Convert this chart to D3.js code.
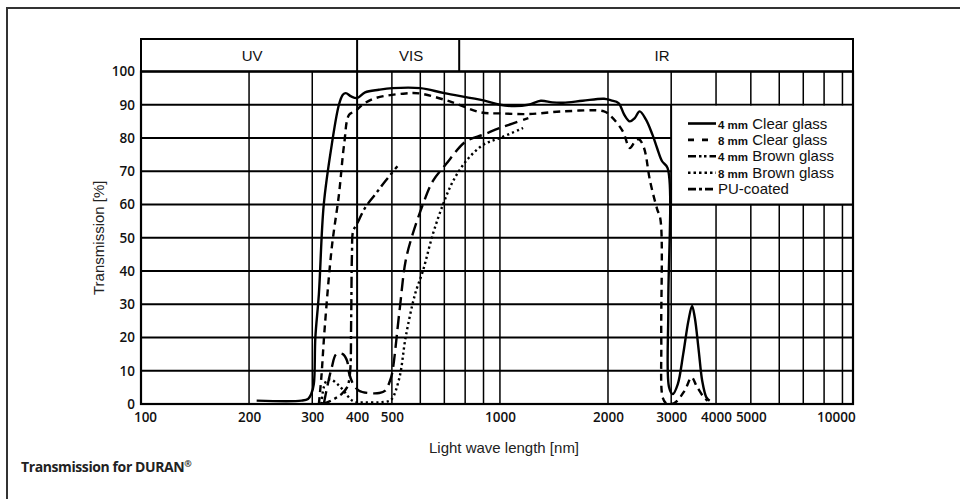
<!DOCTYPE html>
<html>
<head>
<meta charset="utf-8">
<script src="https://cdn.jsdelivr.net/npm/d3@7"></script>
<style>
  html, body { margin: 0; padding: 0; background: #fff; }
  svg { display: block; }
</style>
</head>
<body>
<svg id="chart" width="960" height="499"></svg>
<script>
// ---------- DATA ----------
const bandNames = ["UV", "VIS", "IR"];
const bandEdges = [100, 400, 770, 9630];

const xTickValues = [100, 200, 300, 400, 500, 1000, 2000, 3000, 4000, 5000, 10000];
const xGridValues = [200, 300, 400, 500, 600, 700, 800, 900, 1000, 2000, 3000, 4000, 5000, 6000, 7000, 8000, 9000];
const yTickValues = [0, 10, 20, 30, 40, 50, 60, 70, 80, 90, 100];

const seriesNames = ["4 mm Clear glass", "8 mm Clear glass", "4 mm Brown glass", "8 mm Brown glass", "PU-coated"];

const clear4W = [210, 280, 292, 298, 303, 306, 313, 323, 340, 356, 365, 372, 385, 400, 421, 460, 502, 600, 700, 900, 1000, 1100, 1200, 1300, 1400, 1500, 1700, 1950, 2040, 2140, 2220, 2300, 2375, 2450, 2550, 2660, 2740, 2830, 2930, 2945, 2960, 3030, 3130, 3240, 3350, 3430, 3490, 3580, 3660, 3760, 3840];
const clear4T = [1, 1, 1.5, 3, 6, 20, 33, 60, 78, 90, 93, 93.5, 92.5, 92, 93.7, 94.5, 95, 95, 93.5, 91.3, 90, 89.6, 90, 91.2, 90.7, 90.6, 91.2, 91.8, 91.3, 90.5, 87, 85, 86, 88, 85.6, 81, 77, 73, 71, 30, 5, 3, 6, 15, 25, 29.5, 26, 16, 7, 2, 1];

const clear8W = [313, 318, 325, 340, 356, 368, 380, 395, 414, 450, 546, 597, 725, 884, 1000, 1200, 1500, 1950, 2040, 2200, 2300, 2380, 2440, 2520, 2620, 2740, 2800, 2815, 2840, 2900, 3060, 3270, 3420, 3530, 3700, 3790];
const clear8T = [0, 8, 23, 47, 63, 78, 87, 88, 90, 92, 93.4, 93.4, 91, 87.7, 87.4, 87.2, 88, 88, 86.5, 82, 77, 79, 79.6, 77, 67, 58.7, 55.5, 20, 2, 0.3, 0.3, 4, 8, 5.4, 2, 1];

const brown4W = [323, 330, 340, 350, 365, 375, 380, 390, 405, 432, 461, 479, 494, 501, 525, 546, 571, 610, 650, 706, 804, 899, 1000, 1200];
const brown4T = [0, 5, 11, 15, 15, 13, 9.3, 6, 4, 3.3, 3.3, 4, 7, 9.3, 28, 43, 51, 60, 67, 72, 79, 81, 83, 86];

const brown8W = [318, 323, 330, 340, 355, 370, 383, 395, 420, 460, 487, 500, 525, 546, 580, 610, 650, 694, 740, 804, 899, 1000, 1160];
const brown8T = [0, 5, 7.2, 7.2, 5.7, 3.5, 1.5, 0.6, 0.5, 0.5, 0.8, 1.5, 8, 20, 33, 40, 51, 60, 67, 73, 78, 80, 83];

const puW = [316, 330, 345, 362, 375, 382, 385, 387, 390, 399, 421, 449, 479, 518];
const puT = [0, 0.5, 1.5, 3, 5, 9, 25, 45, 52, 54, 59, 63, 67, 71.5];

// ---------- LAYOUT ----------
const svg = d3.select("#chart");
const L = 141, R = 853, T = 71.5, B = 404, bandTop = 39;

const x = d3.scaleLog().domain([100, 9630]).range([L, R]);
const y = d3.scaleLinear().domain([0, 100]).range([B, T]);

// outer frame (left + top)
svg.append("path")
  .attr("d", `M7,499 L7,8 L960,8`)
  .attr("fill", "none").attr("stroke", "#333").attr("stroke-width", 2);

// gridlines
const grid = svg.append("g");
grid.selectAll("line.h").data(yTickValues.slice(1, -1)).join("line")
  .attr("x1", L).attr("x2", R)
  .attr("y1", d => y(d)).attr("y2", d => y(d))
  .attr("stroke", "#000").attr("stroke-width", 1.9);
grid.selectAll("line.v").data(xGridValues).join("line")
  .attr("x1", d => x(d)).attr("x2", d => x(d))
  .attr("y1", T).attr("y2", B)
  .attr("stroke", "#000").attr("stroke-width", d => d === 400 ? 2 : 1.5);

// band row
svg.append("rect").attr("x", L).attr("y", bandTop).attr("width", R - L).attr("height", T - bandTop)
  .attr("fill", "none").attr("stroke", "#000").attr("stroke-width", 2);
svg.selectAll("line.band").data(bandEdges.slice(1, -1)).join("line")
  .attr("x1", d => x(d)).attr("x2", d => x(d))
  .attr("y1", bandTop).attr("y2", T)
  .attr("stroke", "#000").attr("stroke-width", 2);
svg.selectAll("text.band").data(bandNames).join("text")
  .attr("x", (d, i) => (x(bandEdges[i]) + x(bandEdges[i + 1])) / 2 + (i === 2 ? 6 : 3))
  .attr("y", 61)
  .attr("text-anchor", "middle")
  .attr("font-family", "Liberation Sans, Arial, sans-serif")
  .attr("font-size", 15).attr("fill", "#111")
  .text(d => d);

// legend box (covers grid)
const lgX0 = x(3000), lgX1 = R, lgY0 = y(90), lgY1 = y(60);
svg.append("rect").attr("x", lgX0).attr("y", lgY0 + 1).attr("width", lgX1 - lgX0).attr("height", lgY1 - lgY0 - 1)
  .attr("fill", "#fff").attr("stroke", "none");
svg.append("path")
  .attr("d", `M${lgX0},${lgY0} L${lgX0},${lgY1} L${lgX1},${lgY1}`)
  .attr("fill", "none").attr("stroke", "#000").attr("stroke-width", 1.8);

// plot border
svg.append("rect").attr("x", L).attr("y", T).attr("width", R - L).attr("height", B - T)
  .attr("fill", "none").attr("stroke", "#000").attr("stroke-width", 2.2);

// curves
svg.append("clipPath").attr("id", "clip").append("rect")
  .attr("x", L).attr("y", T - 5).attr("width", R - L).attr("height", B - T + 5);

const styles = [
  { dash: null, w: 2.4 },
  { dash: "7,5", w: 2.4 },
  { dash: "13,6", w: 2.4 },
  { dash: "2.2,3", w: 2.4 },
  { dash: "11,4,3,4", w: 2.4 }
];
const legendDash = [null, "6,8", "8,3,2.5,2.5,2.5,3", "2.5,3", "8,3,3,3"];
const series = [
  [clear4W, clear4T], [clear8W, clear8T], [brown4W, brown4T], [brown8W, brown8T], [puW, puT]
];

const line = d3.line()
  .x(d => x(d[0])).y(d => y(d[1]))
  .curve(d3.curveCatmullRom.alpha(0.5));

const curves = svg.append("g").attr("clip-path", "url(#clip)");
series.forEach((s, i) => {
  const pts = s[0].map((w, k) => [w, s[1][k]]);
  curves.append("path")
    .attr("d", line(pts))
    .attr("fill", "none").attr("stroke", "#000")
    .attr("stroke-width", styles[i].w)
    .attr("stroke-dasharray", styles[i].dash)
    .attr("stroke-linejoin", "round");
});

// legend entries
const lg = svg.append("g");
seriesNames.forEach((name, i) => {
  const cy = 123.5 + i * 16.4;
  lg.append("line")
    .attr("x1", 688).attr("x2", i === 1 ? 708 : 716)
    .attr("y1", cy).attr("y2", cy)
    .attr("stroke", "#000").attr("stroke-width", 2.6)
    .attr("stroke-dasharray", legendDash[i]);
  const t = lg.append("text")
    .attr("x", 718).attr("y", cy + 5)
    .attr("font-family", "Liberation Sans, Arial, sans-serif")
    .attr("font-size", 15).attr("fill", "#111");
  const m = name.match(/^(\d+ mm)(.*)$/);
  if (m) {
    t.append("tspan").attr("font-size", 11.5).attr("font-weight", "bold").text(m[1]);
    t.append("tspan").text(m[2]);
  } else {
    t.text(name);
  }
});

// axes
const xAxis = d3.axisBottom(x).tickValues(xTickValues).tickSize(0).tickPadding(8)
  .tickFormat(d3.format("d"));
const gx = svg.append("g").attr("transform", `translate(0,${B})`).call(xAxis);
gx.select(".domain").remove();
gx.selectAll("text")
  .attr("font-family", "Open Sans, sans-serif").attr("font-weight", 600)
  .attr("font-size", 13.5).attr("fill", "#111")
  .attr("dx", d => d === 100 ? 4 : (d === 10000 ? -23 : 0));

const yAxis = d3.axisLeft(y).tickValues(yTickValues).tickSize(0).tickPadding(6);
const gy = svg.append("g").attr("transform", `translate(${L},0)`).call(yAxis);
gy.select(".domain").remove();
gy.selectAll("text")
  .attr("font-family", "Open Sans, sans-serif").attr("font-weight", 600)
  .attr("font-size", 13.5).attr("fill", "#111");

// axis titles
svg.append("text")
  .attr("transform", `translate(104,${(T + B) / 2}) rotate(-90)`)
  .attr("text-anchor", "middle")
  .attr("font-family", "Liberation Sans, Arial, sans-serif")
  .attr("font-size", 15).attr("fill", "#222")
  .text("Transmission [%]");
svg.append("text")
  .attr("x", 504).attr("y", 453)
  .attr("text-anchor", "middle")
  .attr("font-family", "Liberation Sans, Arial, sans-serif")
  .attr("font-size", 15).attr("fill", "#222")
  .text("Light wave length [nm]");

// caption
const cap = svg.append("text")
  .attr("x", 21).attr("y", 472)
  .attr("font-family", "Open Sans, sans-serif").attr("font-weight", 700)
  .attr("font-size", 14).attr("letter-spacing", -0.4).attr("fill", "#222");
cap.append("tspan").text("Transmission for DURAN");
cap.append("tspan").attr("font-size", 9).attr("dy", -5).text("®");
</script>
</body>
</html>
